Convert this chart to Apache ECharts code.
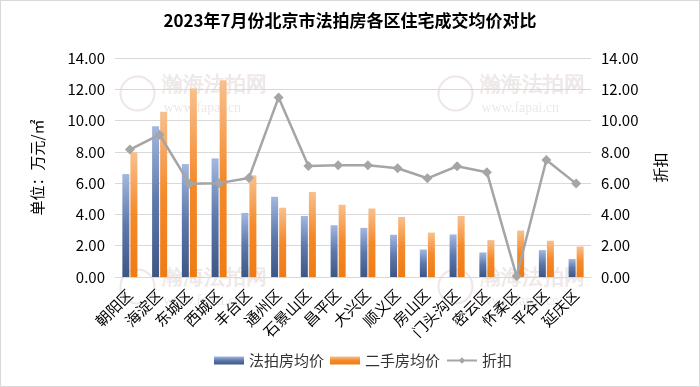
<!DOCTYPE html>
<html>
<head>
<meta charset="utf-8">
<script src="https://cdn.jsdelivr.net/npm/echarts@6/dist/echarts.min.js"></script>
<style>
html,body{margin:0;padding:0;background:#fff;}
#wrap{position:absolute;left:0;top:0;width:698px;height:385px;border:1px solid #d9d9d9;}
#chart{width:698px;height:385px;}
</style>
</head>
<body>
<div id="wrap"><div id="chart"></div></div>
<script>
var categories = ['朝阳区','海淀区','东城区','西城区','丰台区','通州区','石景山区','昌平区','大兴区','顺义区','房山区','门头沟区','密云区','怀柔区','平谷区','延庆区'];
var auctionPrice = [6.58, 9.64, 7.22, 7.58, 4.10, 5.13, 3.90, 3.31, 3.14, 2.70, 1.76, 2.72, 1.57, 0, 1.72, 1.15];
var resalePrice = [7.98, 10.57, 12.05, 12.57, 6.50, 4.43, 5.44, 4.62, 4.38, 3.84, 2.84, 3.90, 2.36, 2.97, 2.32, 1.95];
var discount = [8.15, 9.10, 5.96, 6.00, 6.33, 11.48, 7.10, 7.15, 7.15, 6.95, 6.31, 7.08, 6.70, 0.04, 7.48, 5.97];
var axisTicks = [0, 2, 4, 6, 8, 10, 12, 14];

var FF = '"Noto Sans CJK SC","Microsoft YaHei",sans-serif';
var chart = echarts.init(document.getElementById('chart'), null, {renderer:'canvas'});
function wm(x, y) {
  return {
    type: 'group', left: x, top: y, silent: true, z: -10,
    children: [
      {type:'circle', shape:{cx:18, cy:18, r:17}, style:{fill:'none', stroke:'#efe6e6', lineWidth:2}},
      {type:'text', left: 42, top: 0, style:{text:'瀚海法拍网', font:'bold 21px serif', fill:'#efe8e8'}},
      {type:'text', left: 44, top: 26, style:{text:'www.fapai.cn', font:'14px serif', fill:'#efe8e8'}}
    ]
  };
}
var option = {
  animation: false,
  backgroundColor: '#fff',
  title: {
    text: '2023年7月份北京市法拍房各区住宅成交均价对比',
    left: 'center', top: 6,
    textStyle: {fontFamily: FF, fontSize: 17, fontWeight: 'bold', color: '#000'}
  },
  graphic: [wm(117, 73), wm(435, 73), wm(117, 266), wm(435, 266)],
  legend: {
    bottom: 13, left: 208,
    itemWidth: 30, itemHeight: 8, itemGap: 6,
    textStyle: {fontFamily: FF, fontSize: 15, color: '#333'},
    data: [
      {name:'法拍房均价', icon:'rect'},
      {name:'二手房均价', icon:'rect'},
      {name:'折扣'}
    ]
  },
  grid: {left: 114, right: 108, top: 57, bottom: 109},
  xAxis: {
    type: 'category', data: categories,
    axisLine: {lineStyle: {color: '#d9d9d9', width: 1}},
    axisTick: {show: false},
    axisLabel: {rotate: 45, interval: 0, margin: 15, fontFamily: FF, fontSize: 15, color: '#000'}
  },
  yAxis: [
    {
      type: 'value', min: axisTicks[0], max: axisTicks[axisTicks.length-1], interval: 2,
      name: '单位：万元/㎡', nameLocation: 'middle', nameGap: 70, nameRotate: 90,
      nameTextStyle: {fontFamily: FF, fontSize: 15, color: '#000'},
      axisLine: {show: false}, axisTick: {show: false},
      splitLine: {lineStyle: {color: '#d9d9d9', width: 1}},
      axisLabel: {formatter: function(v){return v.toFixed(2);}, fontFamily: FF, fontSize: 15, color: '#000', margin: 10}
    },
    {
      type: 'value', min: axisTicks[0], max: axisTicks[axisTicks.length-1], interval: 2,
      name: '折扣', nameLocation: 'middle', nameGap: 62, nameRotate: 90,
      nameTextStyle: {fontFamily: FF, fontSize: 15, color: '#000'},
      axisLine: {show: false}, axisTick: {show: false},
      splitLine: {show: false},
      axisLabel: {formatter: function(v){return v.toFixed(2);}, fontFamily: FF, fontSize: 15, color: '#000', margin: 10}
    }
  ],
  series: [
    {
      name: '法拍房均价', type: 'bar', data: auctionPrice, barWidth: 7, barGap: '15%',
      itemStyle: {color: new echarts.graphic.LinearGradient(0,0,0,1,[
        {offset:0, color:'#a3b8e0'},{offset:0.5, color:'#5d78ab'},{offset:1, color:'#3d5686'}])}
    },
    {
      name: '二手房均价', type: 'bar', data: resalePrice, barWidth: 7,
      itemStyle: {color: new echarts.graphic.LinearGradient(0,0,0,1,[
        {offset:0, color:'#f8c08e'},{offset:0.5, color:'#f58a2a'},{offset:1, color:'#ef7b12'}])}
    },
    {
      name: '折扣', type: 'line', yAxisIndex: 1, data: discount,
      symbol: 'diamond', symbolSize: 10,
      lineStyle: {color: '#a5a5a5', width: 2.5},
      itemStyle: {color: '#a5a5a5'}
    }
  ]
};
chart.setOption(option);
</script>
</body>
</html>
